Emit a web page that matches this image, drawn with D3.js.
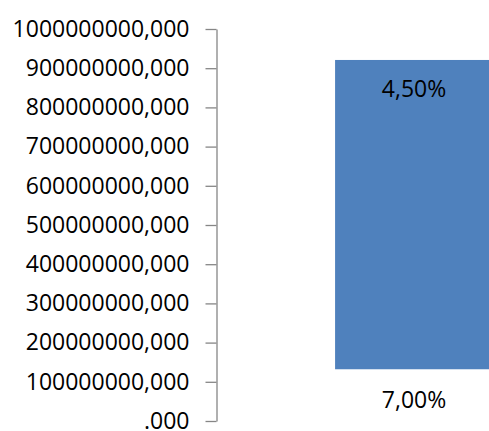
<html>
<head>
    <script src="https://d3js.org/d3.v7.min.js"></script>
    <style>
        body { margin: 0; background: #fff; }
        text { font-family: "Open Sans", sans-serif; fill: #000; }
    </style>
</head>
<body>
<svg width="489" height="431"></svg>
<script>

    // data
    var categories = ["rate"];
    var lowValues = [132000000];
    var highValues = [921000000];
    var topLabels = ["4,50%"];
    var bottomLabels = ["7,00%"];
    var yTicks = [0, 100000000, 200000000, 300000000, 400000000, 500000000,
                  600000000, 700000000, 800000000, 900000000, 1000000000];

    var svg = d3.select("svg");

    var y = d3.scaleLinear()
        .domain([0, 1000000000])
        .range([421, 29]);

    var x = d3.scaleBand()
        .domain(categories)
        .range([216, 612])
        .padding(0.43);

    // y axis
    var yAxis = d3.axisLeft(y)
        .tickValues(yTicks)
        .tickSize(11)
        .tickSizeOuter(0)
        .tickPadding(16)
        .tickFormat(function(d) { return d === 0 ? ".000" : d3.format("d")(d) + ",000"; });

    var gy = svg.append("g")
        .attr("transform", "translate(216.5,0)")
        .call(yAxis);

    gy.select(".domain").attr("stroke", "#868686").attr("stroke-width", 1.3);
    gy.selectAll(".tick line").attr("stroke", "#868686").attr("stroke-width", 1.3);
    gy.selectAll(".tick text")
        .attr("font-size", "23px")
        .attr("font-family", "'Open Sans', sans-serif")
        .attr("fill", "#000");

    // extend the axis line down to the last tick end
    var data = categories.map(function(c, i) {
        return {cat: c, low: lowValues[i], high: highValues[i], top: topLabels[i], bottom: bottomLabels[i]};
    });

    svg.append("g").selectAll("rect")
        .data(data)
        .enter().append("rect")
        .attr("x", function(d) { return x(d.cat); })
        .attr("width", x.bandwidth())
        .attr("y", function(d) { return y(d.high); })
        .attr("height", function(d) { return y(d.low) - y(d.high); })
        .attr("fill", "#4F81BD");

    svg.append("g").selectAll("text")
        .data(data)
        .enter().append("text")
        .attr("x", function(d) { return x(d.cat) + x.bandwidth() / 2; })
        .attr("y", function(d) { return y(d.high) + 29; })
        .attr("dy", "0.35em")
        .attr("text-anchor", "middle")
        .attr("font-size", "23px")
        .text(function(d) { return d.top; });

    svg.append("g").selectAll("text")
        .data(data)
        .enter().append("text")
        .attr("x", function(d) { return x(d.cat) + x.bandwidth() / 2; })
        .attr("y", function(d) { return y(d.low) + 31; })
        .attr("dy", "0.35em")
        .attr("text-anchor", "middle")
        .attr("font-size", "23px")
        .text(function(d) { return d.bottom; });

</script>
</body>
</html>
